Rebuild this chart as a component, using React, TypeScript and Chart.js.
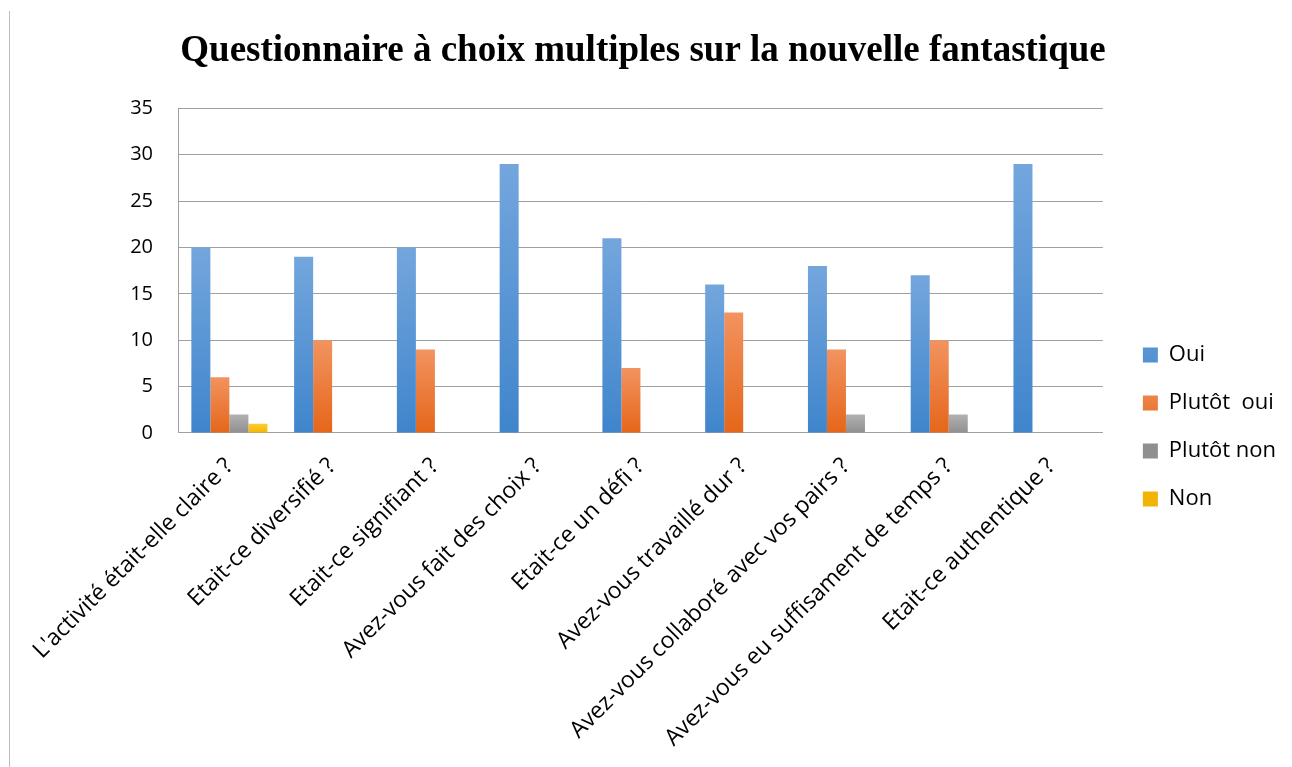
import React, { useEffect, useRef } from "react";
import { Chart, registerables } from "chart.js";

Chart.register(...registerables);

const categories = [
  "L'activité était-elle claire ?",
  "Etait-ce diversifié ?",
  "Etait-ce signifiant ?",
  "Avez-vous fait des choix ?",
  "Etait-ce un défi ?",
  "Avez-vous travaillé dur ?",
  "Avez-vous collaboré avec vos pairs ?",
  "Avez-vous eu suffisament de temps ?",
  "Etait-ce authentique ?",
];

const seriesNames = ["Oui", "Plutôt  oui", "Plutôt non", "Non"];
const ouiValues = [20, 19, 20, 29, 21, 16, 18, 17, 29];
const plutotOuiValues = [6, 10, 9, 0, 7, 13, 9, 10, 0];
const plutotNonValues = [2, 0, 0, 0, 0, 0, 2, 2, 0];
const nonValues = [1, 0, 0, 0, 0, 0, 0, 0, 0];
const yTicks = [0, 5, 10, 15, 20, 25, 30, 35];

const palettes = [
  { top: "#74a6dd", bottom: "#3f85cc", mid: "#5b9bd5" },
  { top: "#f29360", bottom: "#e5661a", mid: "#ed7d31" },
  { top: "#b2b2b2", bottom: "#8f8f8f", mid: "#a5a5a5" },
  { top: "#ffcd33", bottom: "#f1b400", mid: "#ffc000" },
];

function gradientFor(idx: number) {
  const p = palettes[idx];
  return (context: any) => {
    if (context.type !== "data") return p.mid;
    const chart = context.chart;
    const ys = chart.scales?.y;
    if (!ys) return p.mid;
    const yTop = ys.getPixelForValue(context.raw);
    const yBase = ys.getPixelForValue(0);
    if (!isFinite(yTop) || !isFinite(yBase) || Math.abs(yBase - yTop) < 1) return p.mid;
    const g = chart.ctx.createLinearGradient(0, yTop, 0, yBase);
    g.addColorStop(0, p.top);
    g.addColorStop(1, p.bottom);
    return g;
  };
}

const sansFamily = "'Open Sans', 'Noto Sans', sans-serif";

export default function App() {
  const ref = useRef<HTMLCanvasElement | null>(null);
  useEffect(() => {
    if (!ref.current) return;
    const seriesValues = [ouiValues, plutotOuiValues, plutotNonValues, nonValues];
    const chart = new Chart(ref.current, {
      type: "bar",
      data: {
        labels: categories,
        datasets: seriesValues.map((vals, i) => ({
          label: seriesNames[i],
          data: vals,
          yAxisID: "y",
          backgroundColor: gradientFor(i) as any,
          borderWidth: 0,
          categoryPercentage: 0.74,
          barPercentage: 1,
        })),
      },
      options: {
        animation: false,
        responsive: false,
        maintainAspectRatio: false,
        layout: { padding: { left: 0, right: 6, top: 0, bottom: -5 } },
        plugins: {
          title: {
            display: true,
            text: "Questionnaire à choix multiples sur la nouvelle fantastique",
            color: "#000",
            font: { family: "'Liberation Serif', 'Times New Roman', serif", size: 37, weight: "bold" },
            padding: { top: 29, bottom: 35 },
          },
          legend: {
            position: "right",
            align: "start",
            title: {
              display: true,
              text: "",
              font: { size: 10, lineHeight: 1 },
              padding: { top: 308, bottom: 0 },
            },
            labels: {
              color: "#000",
              font: { family: sansFamily, size: 22 },
              boxWidth: 15,
              boxHeight: 15,
              padding: 26,
            },
          },
          tooltip: { enabled: false },
        },
        scales: {
          x: {
            grid: { display: false, drawTicks: false },
            border: { display: true, color: "#a0a0a0", width: 1 },
            ticks: {
              color: "#000",
              font: { family: sansFamily, size: 23 },
              minRotation: 45,
              maxRotation: 45,
              padding: 20,
            },
          },
          y: {
            min: 0,
            max: 35,
            afterBuildTicks: (axis: any) => {
              axis.ticks = yTicks.map((v) => ({ value: v }));
            },
            afterFit: (axis: any) => {
              axis.width = 178;
            },
            grid: { color: "#a0a0a0", lineWidth: 1, drawTicks: false },
            border: { display: true, color: "#a0a0a0", width: 1 },
            ticks: {
              color: "#000",
              font: { family: sansFamily, size: 20 },
              padding: 25,
            },
          },
          gap: {
            type: "linear",
            position: "right",
            display: true,
            grid: { display: false, drawTicks: false },
            border: { display: false },
            ticks: { display: false },
            afterFit: (axis: any) => {
              axis.width = 14;
            },
          },
        },
      },
    });
    return () => chart.destroy();
  }, []);

  return (
    <div style={{ position: "absolute", left: 0, top: 0, width: 1292, height: 767, background: "#fff" }}>
      <div style={{ position: "absolute", left: 9, top: 11, width: 1, height: 756, background: "#bdbdbd" }} />
      <canvas ref={ref} width={1292} height={767} style={{ position: "absolute", left: 0, top: 0 }} />
    </div>
  );
}
